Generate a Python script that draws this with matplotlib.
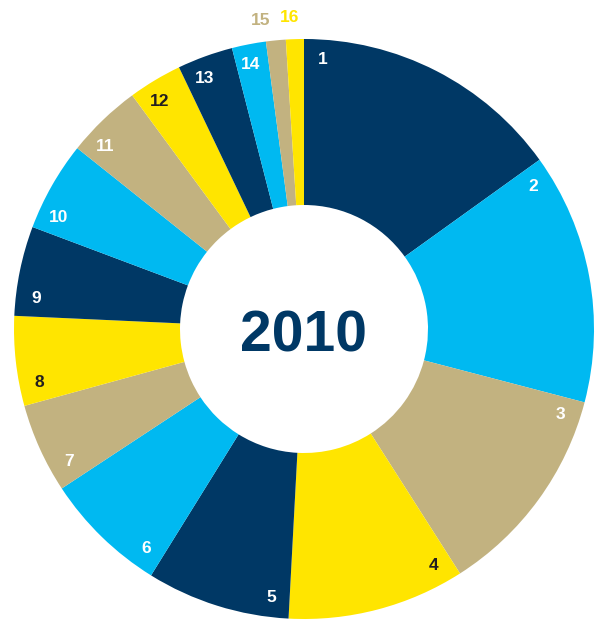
import numpy as np
import matplotlib.pyplot as plt

# share of each slice (%)
labels = [str(i) for i in range(1, 17)]
shares = [15.1, 14.0, 11.9, 9.9, 8.0, 6.9, 5.0, 5.0, 5.0, 5.0, 4.2, 3.0, 3.1, 1.9, 1.1, 1.0]
title = "2010"

navy = "#003865"
blue = "#00B9F1"
tan = "#C2B280"
yellow = "#FFE500"
dark = "#231F20"
palette = [navy, blue, tan, yellow]
colors = [palette[i % 4] for i in range(len(shares))]
text_colors = {navy: "white", blue: "white", tan: "white", yellow: dark}

plt.rcParams['font.family'] = ['Liberation Sans', 'DejaVu Sans']

fig = plt.figure(figsize=(5.96, 6.21), dpi=100)
ax = fig.add_axes([0, 0, 1, 1])

R = 290
r_in = 124
wedges, _ = ax.pie(shares, colors=colors, startangle=90, counterclock=False,
                   radius=R, wedgeprops=dict(width=R - r_in, linewidth=0))

ax.set_xlim(-304, 596 - 304)
ax.set_ylim(-292, 329)
ax.set_aspect('equal')
ax.axis('off')

# tiny slices get their label outside, nudged apart
outside_shift = {14: 2.4, 15: 0.8}
for i, w in enumerate(wedges):
    start, end = w.theta2, w.theta1  # clockwise: theta2 is the leading edge
    span = start - end
    if i in outside_shift:
        ang = np.deg2rad((start + end) / 2 + outside_shift[i])
        rr = 312
        col = colors[i]
    else:
        ang = np.deg2rad(start - min(3.9, span / 2.3))
        rr = 270
        col = text_colors[colors[i]]
    ax.text(rr * np.cos(ang), rr * np.sin(ang), labels[i], ha='center', va='center',
            fontsize=12.5, fontweight='bold', color=col)

ax.text(0, -2, title, ha='center', va='center_baseline', fontsize=41, fontweight='bold', color=navy)

fig.savefig("out.png", dpi=100)
